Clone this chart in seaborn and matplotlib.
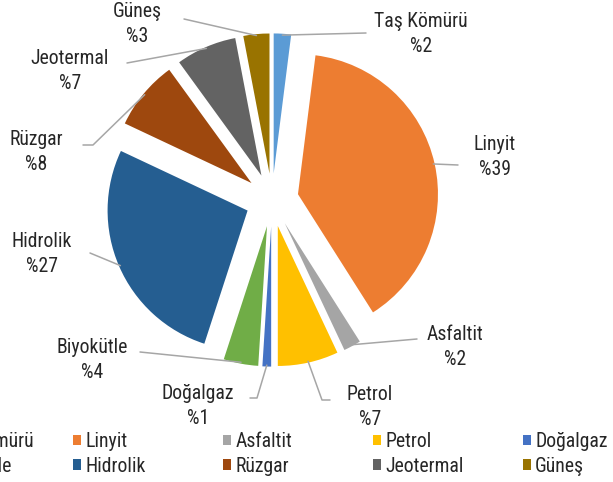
import matplotlib
matplotlib.use("Agg")
import matplotlib.pyplot as plt
from matplotlib import font_manager
from matplotlib.patches import Patch
import seaborn as sns
import numpy as np

# data
sources = ["Taş Kömürü", "Linyit", "Asfaltit", "Petrol", "Doğalgaz",
           "Biyokütle", "Hidrolik", "Rüzgar", "Jeotermal", "Güneş"]
shares = [2, 39, 2, 7, 1, 4, 27, 8, 7, 3]
hex_colors = ["#5B9BD5", "#ED7D31", "#A5A5A5", "#FFC000", "#4472C4",
              "#70AD47", "#255E91", "#9E480E", "#636363", "#997300"]

sns.set_theme(style="white")

# narrow sans if one is around, else plain Liberation Sans
found = sorted({f.name for f in font_manager.fontManager.ttflist
                if ("Narrow" in f.name or "Condensed" in f.name)
                and f.weight in (400, "normal", "regular") and f.style == "normal"})
narrow = None
for pref in ["Liberation Sans Narrow", "Roboto Condensed", "Open Sans Condensed",
             "Noto Sans Condensed"]:
    if pref in found:
        narrow = pref
        break
if narrow is None and found:
    narrow = found[0]
if narrow:
    plt.rcParams["font.family"] = [narrow, "DejaVu Sans"]
    FS = 14.2
else:
    plt.rcParams["font.family"] = ["Liberation Sans", "DejaVu Sans"]
    FS = 13
TEXT = "#262626"
LINE = "#A6A6A6"

palette = sns.color_palette(hex_colors)

# pixel -> data helper (pie centre at 272,200 px, radius 140 px)
R_PX = 140.0
CX, CY = 272.0, 200.0


def px(x, y):
    return ((x - CX) / R_PX, (CY - y) / R_PX)


fig = plt.figure(figsize=(6.13, 4.82), dpi=100)
ax = fig.add_axes([0, 0, 1, 1])

wedges, _ = ax.pie(shares, colors=palette, startangle=90, counterclock=False,
                   explode=[0.19] * len(shares), radius=1.0,
                   wedgeprops=dict(linewidth=0, edgecolor="none"))

# label layout (pixel coords of label centre, leader points from label side)
label_pos = [(421, 34), (495, 157), (455, 347), (370, 407), (198, 406),
             (92, 360), (42, 254), (36, 152), (70, 71), (137, 24)]
leader_pts = [[(366, 33)], [(458, 165)], [(417, 339)], [(330, 400), (322, 400)],
              [(250, 398), (257, 398)], [(140, 352)], [(90, 253)],
              [(83, 145), (93, 145)], [(127, 63)], [(184, 19)]]

for w, name, val, lp, pts in zip(wedges, sources, shares, label_pos, leader_pts):
    mid = np.deg2rad((w.theta1 + w.theta2) / 2)
    cx, cy = w.center
    ex, ey = cx + w.r * 0.99 * np.cos(mid), cy + w.r * 0.99 * np.sin(mid)
    xs = [px(*p)[0] for p in pts] + [ex]
    ys = [px(*p)[1] for p in pts] + [ey]
    ax.plot(xs, ys, color=LINE, lw=1.1, zorder=1)
    tx, ty = px(*lp)
    ax.text(tx, ty, f"{name}\n%{val}", ha="center", va="center",
            fontsize=FS, color=TEXT, linespacing=1.4)

ax.set_xlim(-CX / R_PX, (613 - CX) / R_PX)
ax.set_ylim(-(482 - CY) / R_PX, CY / R_PX)
ax.set_aspect("equal")
ax.axis("off")

# legend: 5 columns x 2 rows, leftmost column partly outside the figure
col_x = [-72, 73, 223, 373, 523]
for c, x in enumerate(col_x):
    idx = [c, c + 5]
    handles = [Patch(facecolor=palette[i], edgecolor="none") for i in idx]
    fig.legend(handles, [sources[i] for i in idx], loc="upper left",
               bbox_to_anchor=(x / 613, 1 - 432 / 482), frameon=False,
               fontsize=FS, handlelength=0.42, handleheight=0.42,
               handletextpad=0.2, labelspacing=0.28, borderpad=0,
               borderaxespad=0, labelcolor=TEXT)

fig.savefig("out.png", dpi=100)
